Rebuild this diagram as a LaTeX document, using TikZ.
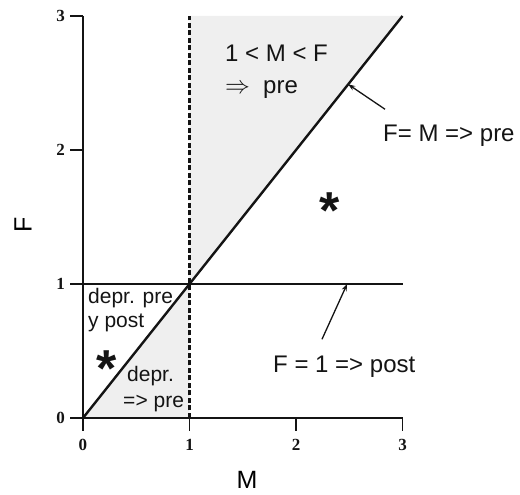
\documentclass[tikz,border=0pt]{standalone}
\usepackage{fontspec}
\setmainfont{Liberation Sans}
\newfontfamily\tickfont{Liberation Serif}
\usetikzlibrary{arrows.meta}
\definecolor{ink}{RGB}{20,20,20}
\definecolor{regionfill}{RGB}{239,239,239}

\begin{document}
\begin{tikzpicture}[x=106.5pt,y=134pt,
  axis/.style={ink,line width=1.8pt},
  ticklbl/.style={ink,inner sep=0pt,font=\tickfont\bfseries\fontsize{17}{17}\selectfont},
  lbl/.style={ink,inner sep=0pt,anchor=base west,font=\fontsize{24}{28}\selectfont},
  small/.style={ink,inner sep=0pt,anchor=base west,font=\fontsize{21}{24}\selectfont},
  leader/.style={ink,line width=1.3pt,-{Stealth[length=7pt,width=5pt]}},
  starmark/.style={ink,inner sep=0pt,font=\bfseries\fontsize{52}{52}\selectfont}]
\useasboundingbox (-83pt,-77pt) rectangle (437pt,418pt);
% shaded regions
\fill[regionfill] (1,1) -- (1,3) -- (3,3) -- cycle;
\fill[regionfill] (0,0) -- (1,0) -- (1,1) -- cycle;
% axes and ticks
\draw[axis] (0,3) -- (0,0) -- (3,0);
\foreach \y in {0,1,2,3}{
  \draw[axis] (0,\y) -- ++(-13pt,0);
  \node[ticklbl,anchor=east,xshift=-18pt] (ty\y) at (0,\y) {\y};
}
\foreach \x in {0,1,2,3}{
  \draw[axis] (\x,0) -- ++(0,-13pt);
  \node[ticklbl,anchor=north,yshift=-21pt] (tx\x) at (\x,0) {\x};
}
\node[font=\fontsize{25}{28}\selectfont,rotate=90] (labF) at (-0.563,1.44) {F};
\node[font=\fontsize{25}{28}\selectfont] (labM) at (1.54,-0.46) {M};
% boundaries
\draw[axis] (0,1) -- (3,1);
\draw[ink,line width=2.3pt,dash pattern=on 5pt off 2.5pt] (1,0) -- (1,3);
\draw[ink,line width=2.4pt] (0,0) -- (3,3);
% region texts
\node[lbl] (upper) at (1.333,2.657) {1 < M < F};
\node[lbl] (upperpre) at (1.333,2.425) {$\Rightarrow$\hspace{0.55em}pre};
\node[small] (deprpre) at (0.047,0.858) {depr. pre};
\node[small] (ypost) at (0.047,0.672) {y post};
\node[small] (depr) at (0.413,0.269) {depr.};
\node[small] (deprarrow) at (0.376,0.075) {=> pre};
\node[starmark,yshift=-11pt] (starL) at (0.225,0.448) {*};
\node[starmark,yshift=-11pt] (starR) at (2.319,1.627) {*};
% line labels
\node[lbl] (lblFM) at (2.817,2.060) {F= M => pre};
\node[lbl] (lblFone) at (1.784,0.336) {F = 1 => post};
\coordinate (tipFM) at (2.49,2.49);
\coordinate (tipFone) at (2.48,1);
\draw[leader] ([xshift=2pt,yshift=16pt]lblFM.north west) -- (tipFM);
\draw[leader] ([xshift=49pt,yshift=17pt]lblFone.north west) -- (tipFone);
\end{tikzpicture}
\end{document}
